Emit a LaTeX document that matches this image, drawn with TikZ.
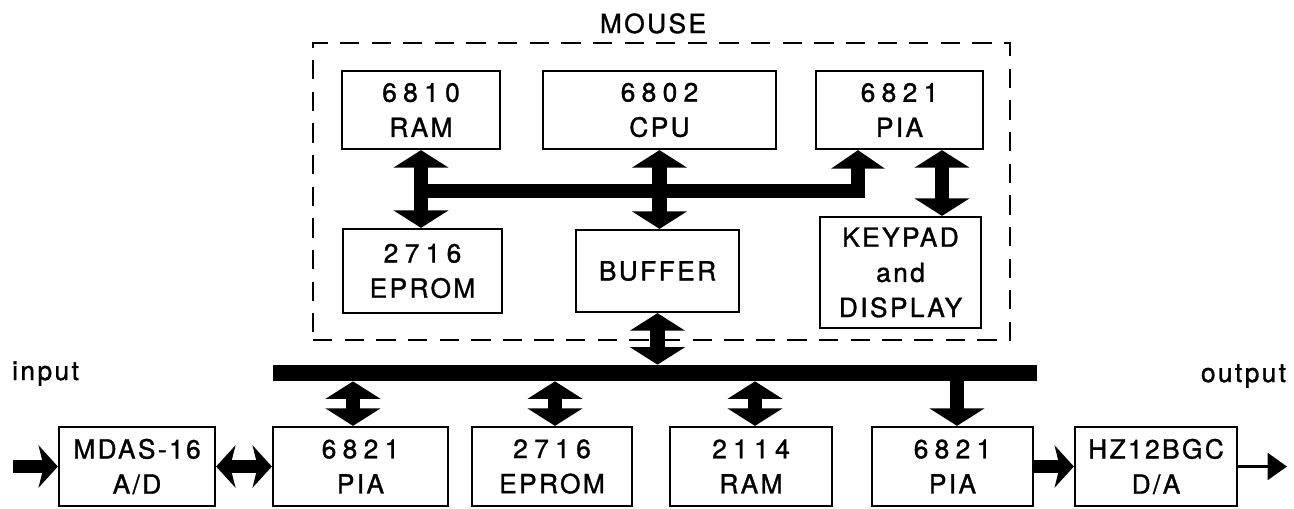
\documentclass[tikz,border=0pt]{standalone}
\usepackage{fontspec}
\setmainfont{TeX Gyre Heros}
\newfontfamily\lbl[LetterSpace=9,FakeBold=1.2]{TeX Gyre Heros}
\newfontfamily\dig[LetterSpace=24,FakeBold=1.2]{TeX Gyre Heros}
\usetikzlibrary{arrows.meta}
\begin{document}
\begin{tikzpicture}[x=0.02cm,y=-0.02cm,
  box/.style={draw, line width=1.3pt, align=center, inner sep=0pt,
              font=\fontsize{15}{20}\selectfont\lbl},
  tbox/.style={box, minimum height=1.56cm},
  bbox/.style={box, minimum height=1.58cm},
  lab/.style={font=\fontsize{15}{17}\selectfont\lbl, inner sep=0pt, anchor=base},
  fatdbl/.style={line width=8pt, >={Triangle[width=31pt,length=10pt]}, <->},
  fatone/.style={line width=8pt, >={Triangle[width=31pt,length=10pt]}, ->},
  innerbus/.style={line width=7.6pt, line join=miter, >={Triangle[width=30pt,length=10.5pt]}, ->},
  hfat/.style={line width=7.4pt, >={Stealth[width=24pt,length=11pt,inset=3pt]}},
  thinarrow/.style={line width=2.2pt, >={Triangle[width=15pt,length=11pt]}, ->},
  mousebox/.style={draw, line width=1.5pt, dash pattern=on 11pt off 7pt, inner sep=0pt}
]
\useasboundingbox (0,0) rectangle (1294,508);

% MOUSE enclosure
\node[mousebox, minimum width=13.94cm, minimum height=5.94cm] (mouse) at (661.5,191.5) {};
\node[lab] (mlabel) at (653,33) {MOUSE};

% top row
\node[tbox, minimum width=3.16cm] (ram1) at (421,110) {{\dig 6810}\\RAM};
\node[tbox, minimum width=4.66cm] (cpu) at (659.5,110) {{\dig 6802}\\CPU};
\node[tbox, minimum width=3.34cm] (pia1) at (899.5,110) {{\dig 6821}\\PIA};

% second row inside mouse
\node[box, minimum width=3.18cm, minimum height=1.68cm] (eprom1) at (422.5,271) {{\dig 2716}\\EPROM};
\node[box, minimum width=3.26cm, minimum height=1.64cm] (buffer) at (657.5,271) {BUFFER};
\node[box, minimum width=3.22cm, minimum height=2.22cm] (keypad) at (900.5,272.5) {KEYPAD\\and\\DISPLAY};

% main bus
\node[fill=black, inner sep=0pt, minimum width=15.28cm, minimum height=0.32cm] (bus) at (655,373) {};

% bottom row
\node[bbox, minimum width=3.12cm] (mdas) at (137,466.5) {MDAS-16\\A/D};
\node[bbox, minimum width=3.5cm] (pia2) at (360.5,466.5) {{\dig 6821}\\PIA};
\node[bbox, minimum width=3.2cm] (eprom2) at (552,466.5) {{\dig 2716}\\EPROM};
\node[bbox, minimum width=3.24cm] (ram2) at (751,466.5) {{\dig 2114}\\RAM};
\node[bbox, minimum width=3.22cm] (pia3) at (952.5,466.5) {{\dig 6821}\\PIA};
\node[bbox, minimum width=3.24cm] (hz) at (1156,466.5) {HZ12BGC\\D/A};

% input / output labels
\node[lab] (inlabel) at (45.5,380) {input};
\node[lab] (outlabel) at (1243.5,382) {output};

% internal mouse bus
\coordinate (bl) at (421,191);
\draw[innerbus] (bl) -| ([xshift=-0.83cm]pia1.south);

% vertical block arrows inside mouse
\draw[fatdbl] (ram1.south) -- (ram1.south |- eprom1.north);
\draw[fatdbl] (cpu.south) -- (cpu.south |- buffer.north);
\draw[fatdbl] ([xshift=0.85cm]pia1.south) -- ([xshift=0.85cm]pia1.south |- keypad.north);
\draw[fatdbl] (buffer.south) -- (buffer.south |- bus.north);

% bus to bottom row
\draw[fatdbl] ([xshift=-0.15cm]pia2.north) -- ([xshift=-0.15cm]pia2.north |- bus.south);
\draw[fatdbl] ([xshift=0.06cm]eprom2.north) -- ([xshift=0.06cm]eprom2.north |- bus.south);
\draw[fatdbl] ([xshift=0.08cm]ram2.north) -- ([xshift=0.08cm]ram2.north |- bus.south);
\draw[fatone] ([xshift=0.09cm]pia3.north |- bus.south) -- ([xshift=0.09cm]pia3.north);

% horizontal arrows
\coordinate (inS) at (13,466.5);
\coordinate (outE) at (1287,466.5);
\draw[hfat, ->] (inS) -- (mdas.west);
\draw[hfat, <->] (mdas.east) -- (pia2.west);
\draw[hfat, ->] (pia3.east) -- (hz.west);
\draw[thinarrow] (hz.east) -- (outE);
\end{tikzpicture}
\end{document}
